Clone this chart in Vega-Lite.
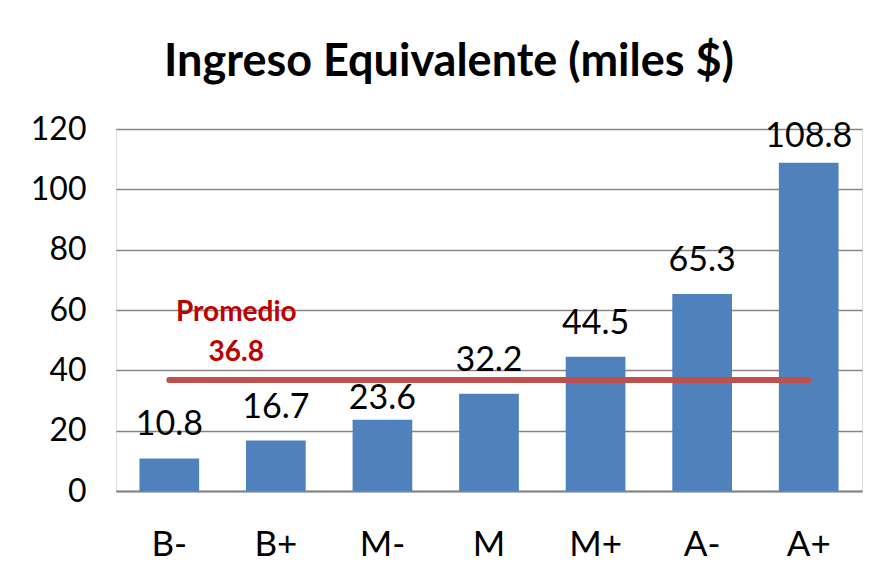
{
  "$schema": "https://vega.github.io/schema/vega-lite/v6.json",
  "width": 746,
  "height": 362,
  "autosize": {"type": "none"},
  "padding": {"left": 116, "top": 129, "right": 19, "bottom": 91},
  "background": "white",
  "title": {
    "text": "Ingreso Equivalente (miles $)",
    "font": "Lato",
    "fontSize": 45,
    "fontWeight": "bold",
    "color": "black",
    "anchor": "middle",
    "dx": -40,
    "offset": 28
  },
  "datasets": {
    "bars": [
      {"grupo": "B-", "ingreso": 10.8},
      {"grupo": "B+", "ingreso": 16.7},
      {"grupo": "M-", "ingreso": 23.6},
      {"grupo": "M", "ingreso": 32.2},
      {"grupo": "M+", "ingreso": 44.5},
      {"grupo": "A-", "ingreso": 65.3},
      {"grupo": "A+", "ingreso": 108.8}
    ],
    "avg": [
      {"desde": "B-", "hasta": "A+", "promedio": 36.8, "etiqueta": ["Promedio", "36.8"]}
    ]
  },
  "layer": [
    {
      "data": {"name": "bars"},
      "mark": {"type": "bar", "color": "#4F81BD"},
      "encoding": {
        "x": {
          "field": "grupo", "type": "nominal", "sort": null,
          "scale": {"paddingInner": 0.44, "paddingOuter": 0.22},
          "axis": {
            "title": null, "labelAngle": 0, "labelFont": "Lato",
            "labelFontSize": 35, "labelColor": "black", "labelPadding": 36,
            "ticks": false, "domainColor": "#868686", "domainWidth": 2
          }
        },
        "y": {
          "field": "ingreso", "type": "quantitative",
          "scale": {"domain": [0, 120]},
          "axis": {
            "title": null, "values": [0, 20, 40, 60, 80, 100, 120],
            "labelFont": "Lato", "labelFontSize": 32,
            "labelColor": "black", "labelPadding": 30, "ticks": false,
            "domain": false, "gridColor": "#868686", "gridWidth": 1.5
          }
        }
      }
    },
    {
      "data": {"name": "bars"},
      "transform": [{"filter": "datum.grupo !== 'M-' && datum.grupo !== 'A+'"}],
      "mark": {"type": "text", "baseline": "alphabetic", "dy": -23, "font": "Lato", "fontSize": 34, "color": "black"},
      "encoding": {
        "x": {"field": "grupo", "type": "nominal", "sort": null},
        "y": {"field": "ingreso", "type": "quantitative"},
        "text": {"field": "ingreso", "type": "quantitative", "format": ".1f"}
      }
    },
    {
      "data": {"name": "bars"},
      "transform": [{"filter": "datum.grupo === 'M-'"}],
      "mark": {"type": "text", "baseline": "alphabetic", "dy": -11, "font": "Lato", "fontSize": 34, "color": "black"},
      "encoding": {
        "x": {"field": "grupo", "type": "nominal", "sort": null},
        "y": {"field": "ingreso", "type": "quantitative"},
        "text": {"field": "ingreso", "type": "quantitative", "format": ".1f"}
      }
    },
    {
      "data": {"name": "bars"},
      "transform": [{"filter": "datum.grupo === 'A+'"}],
      "mark": {"type": "text", "baseline": "alphabetic", "dy": -16, "font": "Lato", "fontSize": 34, "color": "black"},
      "encoding": {
        "x": {"field": "grupo", "type": "nominal", "sort": null},
        "y": {"field": "ingreso", "type": "quantitative"},
        "text": {"field": "ingreso", "type": "quantitative", "format": ".1f"}
      }
    },
    {
      "data": {"name": "avg"},
      "mark": {"type": "rule", "color": "#C0504D", "strokeWidth": 6, "strokeCap": "round"},
      "encoding": {
        "x": {"field": "desde", "type": "nominal", "sort": null},
        "x2": {"field": "hasta"},
        "y": {"field": "promedio", "type": "quantitative"}
      }
    },
    {
      "data": {"name": "avg"},
      "mark": {"type": "text", "baseline": "middle", "align": "center", "dx": 67, "dy": -67, "lineHeight": 40, "font": "Lato", "fontSize": 28, "fontWeight": "bold", "color": "#C00000"},
      "encoding": {
        "x": {"field": "desde", "type": "nominal", "sort": null},
        "y": {"field": "promedio", "type": "quantitative"},
        "text": {"field": "etiqueta"}
      }
    }
  ]
}
